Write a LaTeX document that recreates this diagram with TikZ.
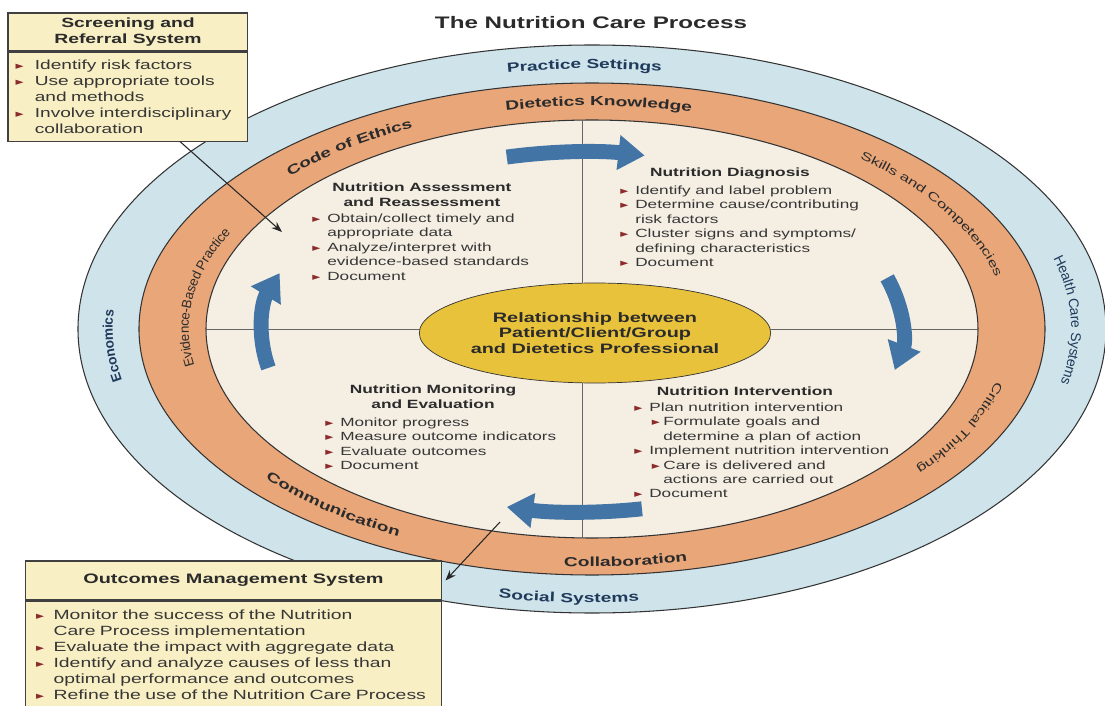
\documentclass[tikz,border=0pt]{standalone}
\usepackage{fontspec}
\setmainfont[FakeStretch=1.45]{Liberation Sans}
\newfontfamily\sidefont{Liberation Sans}
\newfontfamily\symfont{DejaVu Sans}
\usetikzlibrary{arrows.meta,positioning,shapes.geometric,decorations.text}
\definecolor{ringblue}{HTML}{CFE3EB}
\definecolor{ringorange}{HTML}{E9A679}
\definecolor{innerbeige}{HTML}{F5EEE3}
\definecolor{coregold}{HTML}{E9C23C}
\definecolor{boxyellow}{HTML}{F9EFC4}
\definecolor{arrowblue}{HTML}{4275A6}
\definecolor{bulletred}{HTML}{8B2B2B}
\definecolor{navytext}{HTML}{1F3A5A}
\definecolor{darktext}{HTML}{2B2B2B}
\definecolor{bodytext}{HTML}{363636}
\newcommand{\blt}{{\color{bulletred}\symfont\fontsize{6}{6}\selectfont\char"25BA}}
\newcommand{\bitem}[2][8.5pt]{\makebox[#1][l]{\blt}#2}
\newcommand{\bcont}[2][8.5pt]{\hspace*{#1}#2}
\newcommand{\sbitem}[1]{\hspace*{10pt}\makebox[6.5pt][l]{\blt}#1}
\newcommand{\sbcont}[1]{\hspace*{16.5pt}#1}

\begin{document}
\begin{tikzpicture}[x=0.02cm,y=0.02cm]
\tikzstyle{every node}=[inner sep=0pt, text=bodytext]
\tikzstyle{ringline}=[draw=black!80, line width=0.6pt]
\tikzstyle{divider}=[draw=black!60, line width=0.5pt]
\tikzstyle{cyclearrow}=[draw=arrowblue, line width=8.5pt, -{Triangle[length=15pt,width=19pt]}]
\tikzstyle{callout}=[draw=black!85, line width=0.6pt, -{Stealth[length=6pt,width=4.5pt]}]
\tikzstyle{phase}=[font=\fontsize{6.8}{8.3}\selectfont\bfseries, align=center, text=darktext]
\tikzstyle{steps}=[font=\fontsize{6.75}{8.2}\selectfont, align=left, anchor=north west]
\tikzstyle{sysbox}=[draw=black!75, fill=boxyellow, line width=0.6pt]
\tikzstyle{core}=[ellipse, draw=black!80, fill=coregold, minimum width=5.68cm, minimum height=2cm, align=center, text=darktext, font=\fontsize{7.8}{9}\selectfont\bfseries]
\tikzstyle{ringlabel}=[decorate, decoration={text along path, text align=center, raise=-2.7pt}]
\useasboundingbox (-592,-377) rectangle (513,329);

\draw[ringline, fill=ringblue] (0,0) ellipse [x radius=514, y radius=284];
\draw[ringline, fill=ringorange] (0,0) ellipse [x radius=453, y radius=246];
\draw[ringline, fill=innerbeige] (0,0) ellipse [x radius=386, y radius=209];
\draw[divider] (-10,209) -- (-10,-209);
\draw[divider] (-386,0) -- (386,0);

\path[ringlabel, decoration={text color=navytext, text={|\bfseries\fontsize{7.5}{9}\selectfont|Practice Settings}}] (121:484 and 265) arc[start angle=121, end angle=61, x radius=484, y radius=265];
\path[ringlabel, decoration={text color=navytext, text={|\sidefont\fontsize{8}{9}\selectfont|Health Care Systems}}] (36:484 and 265) arc[start angle=36, end angle=-33, x radius=484, y radius=265];
\path[ringlabel, decoration={text color=navytext, text={|\sidefont\bfseries\fontsize{7.8}{9}\selectfont|Economics}}] (213:484 and 265) arc[start angle=213, end angle=153, x radius=484, y radius=265];
\path[ringlabel, decoration={text color=navytext, text={|\bfseries\fontsize{7.5}{9}\selectfont|Social Systems}}] (237:486 and 269) arc[start angle=237, end angle=297, x radius=486, y radius=269];

\path[ringlabel, decoration={text color=darktext, text={|\bfseries\fontsize{7.5}{9}\selectfont|Dietetics Knowledge}}] (119:420 and 228) arc[start angle=119, end angle=59, x radius=420, y radius=228];
\path[ringlabel, decoration={text color=darktext, text={|\bfseries\fontsize{7.5}{9}\selectfont|Code of Ethics}}] (159:420 and 228) arc[start angle=159, end angle=99, x radius=420, y radius=228];
\path[ringlabel, decoration={text color=darktext, text={|\sidefont\fontsize{7.6}{9}\selectfont|Evidence-Based Practice}}] (208:408 and 221) arc[start angle=208, end angle=138, x radius=408, y radius=221];
\path[ringlabel, decoration={text color=darktext, text={|\fontsize{6.7}{9}\selectfont|Skills and Competencies}}] (63:420 and 228) arc[start angle=63, end angle=-7, x radius=420, y radius=228];
\path[ringlabel, decoration={text color=darktext, text={|\fontsize{6.7}{9}\selectfont|Critical Thinking}}] (7:420 and 228) arc[start angle=7, end angle=-53, x radius=420, y radius=228];
\path[ringlabel, decoration={text color=darktext, text={|\bfseries\fontsize{7.5}{9}\selectfont|Collaboration}}] (245:424 and 233) arc[start angle=245, end angle=305, x radius=424, y radius=233];
\path[ringlabel, decoration={text color=darktext, text={|\bfseries\fontsize{7.5}{9}\selectfont|Communication}}] (198:420 and 228) arc[start angle=198, end angle=258, x radius=420, y radius=228];

\node[core] (rel) at (3,-4) {Relationship between\\Patient/Client/Group\\and Dietetics Professional};

\draw[cyclearrow] (-10,-3) ++(103.6:320 and 180) arc[start angle=103.6, end angle=78.7, x radius=320, y radius=180];
\draw[cyclearrow] (-10,-3) ++(17.5:320 and 180) arc[start angle=17.5, end angle=-12.2, x radius=320, y radius=180];
\draw[cyclearrow] (-10,-3) ++(280.8:320 and 180) arc[start angle=280.8, end angle=256.4, x radius=320, y radius=180];
\draw[cyclearrow] (-10,-3) ++(191.5:320 and 180) arc[start angle=191.5, end angle=160.9, x radius=320, y radius=180];

\node[font=\fontsize{9.5}{11}\selectfont\bfseries, text=darktext] (title) at (-1,306) {The Nutrition Care Process};

\node[phase] (asmthead) at (-170,134.5) {Nutrition Assessment\\and Reassessment};
\node[steps] (asmtlist) at (-280,115.5) {\bitem{Obtain/collect timely and}\\\bcont{appropriate data}\\\bitem{Analyze/interpret with}\\\bcont{evidence-based standards}\\\bitem{Document}};
\node[phase] (diaghead) at (138,156) {Nutrition Diagnosis};
\node[steps] (diaglist) at (28,143.5) {\bitem{Identify and label problem}\\\bitem{Determine cause/contributing}\\\bcont{risk factors}\\\bitem{Cluster signs and symptoms/}\\\bcont{defining characteristics}\\\bitem{Document}};
\node[phase] (monhead) at (-159,-68) {Nutrition Monitoring\\and Evaluation};
\node[steps] (monlist) at (-267,-88.5) {\bitem{Monitor progress}\\\bitem{Measure outcome indicators}\\\bitem{Evaluate outcomes}\\\bitem{Document}};
\node[phase] (intvhead) at (153,-62) {Nutrition Intervention};
\node[steps] (intvlist) at (42,-73.5) {\bitem{Plan nutrition intervention}\\\sbitem{Formulate goals and}\\\sbcont{determine a plan of action}\\\bitem{Implement nutrition intervention}\\\sbitem{Care is delivered and}\\\sbcont{actions are carried out}\\\bitem{Document}};

\node[sysbox, minimum width=4.8cm, minimum height=0.76cm, align=center, text=darktext, font=\fontsize{7.6}{8.6}\selectfont\bfseries] (scrhead) at (-464,297) {Screening and\\Referral System};
\node[sysbox, below=0pt of scrhead, minimum width=4.8cm, minimum height=1.78cm, text width=4.5cm, align=left, font=\fontsize{7.5}{9.1}\selectfont] (scrbody) {\bitem[11pt]{Identify risk factors}\\\bitem[11pt]{Use appropriate tools}\\\bcont[11pt]{and methods}\\\bitem[11pt]{Involve interdisciplinary}\\\bcont[11pt]{collaboration}};

\node[sysbox, minimum width=8.34cm, minimum height=0.78cm, text=darktext, font=\fontsize{7.8}{9}\selectfont\bfseries] (outhead) at (-358.5,-251.5) {Outcomes Management System};
\node[sysbox, below=0pt of outhead, minimum width=8.34cm, minimum height=2.16cm, text width=7.9cm, align=left, font=\fontsize{7.6}{9.1}\selectfont] (outbody) {\bitem[10pt]{Monitor the success of the Nutrition}\\\bcont[10pt]{Care Process implementation}\\\bitem[10pt]{Evaluate the impact with aggregate data}\\\bitem[10pt]{Identify and analyze causes of less than}\\\bcont[10pt]{optimal performance and outcomes}\\\bitem[10pt]{Refine the use of the Nutrition Care Process}};

\coordinate (asmtpt) at (-310,97);
\draw[callout] ([xshift=1.04cm]scrbody.south) -- (asmtpt);
\coordinate (monpt) at (-92,-193);
\draw[callout] (monpt) -- ([xshift=0.06cm]outhead.east);
\end{tikzpicture}
\end{document}
